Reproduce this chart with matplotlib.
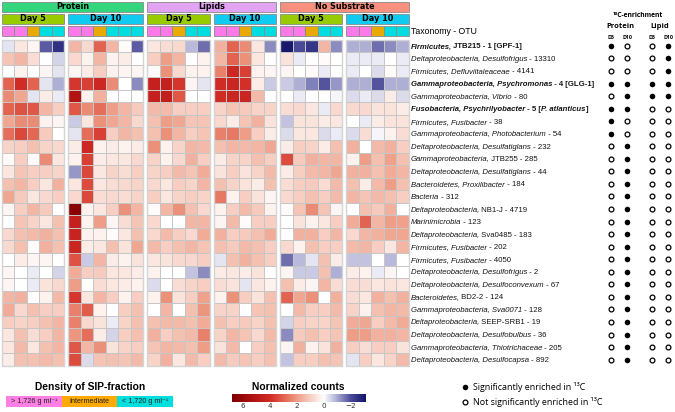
import numpy as np
import matplotlib
matplotlib.use("Agg")
import matplotlib.pyplot as plt
from matplotlib.colors import LinearSegmentedColormap, Normalize
from matplotlib.patches import Rectangle

# ---------------- data ----------------
treatments = ["Protein", "Lipids", "No Substrate"]
days = ["Day 5", "Day 10"]

# density of SIP fraction per column: h = heavy, m = intermediate, l = light
dens_p5 = ["h", "h", "m", "l", "l"]
dens_p10 = ["h", "h", "m", "l", "l", "l"]
dens_l5 = ["h", "h", "m", "l", "l"]
dens_l10 = ["h", "h", "m", "l", "l"]
dens_n5 = ["h", "h", "m", "l", "l"]
dens_n10 = ["h", "h", "m", "l", "l"]

protein_d5 = [
    [-0.3, 0.5, 0.2, -1.8, -2.5], [1.2, 1.5, 0.7, 0.0, -0.5], [0.0, 0.3, 0.0, 0.2, -0.3],
    [3.0, 4.0, 3.0, -0.3, -0.9], [2.3, 1.8, -0.3, 0.4, -0.2], [3.0, 3.3, 3.2, 1.5, 1.0],
    [1.8, 2.3, 2.3, 0.3, 0.2], [2.8, 3.5, 2.9, 1.1, 0.0], [0.9, 1.0, 1.3, 0.9, 0.8],
    [0.1, 1.0, 0.1, 2.3, 0.5], [0.5, 1.2, 1.0, 1.0, 0.9], [1.3, 1.5, 1.0, 0.5, 1.6],
    [1.8, 1.1, 0.5, 0.8, 1.0], [0.2, 1.0, 1.5, 1.1, 0.0], [0.0, 1.2, 0.9, 0.5, 1.3],
    [0.8, 1.3, 1.4, 1.6, 1.3], [0.8, 1.3, 0.1, 1.6, 1.3], [0.0, 0.4, 0.2, 0.2, 0.0],
    [0.2, 0.0, -0.2, 0.0, -0.5], [0.2, 0.0, -0.2, 0.6, 0.8], [1.5, 1.6, 0.0, 0.3, 1.4],
    [1.7, 0.8, 1.3, 1.0, 1.0], [1.0, 0.9, 1.0, 1.3, 1.5], [0.5, 1.3, 0.7, 1.0, 1.5],
    [0.5, 1.4, 0.5, 1.3, 1.5], [0.4, 1.3, 1.3, 1.4, 1.3],
]
protein_d10 = [
    [1.5, 0.8, 3.0, 1.5, 0.1, -1.8], [0.8, 0.3, 1.5, 0.3, 0.4, 0.0], [0.2, 0.4, 1.0, 0.3, 0.2, 0.2],
    [3.8, 3.6, 4.2, 2.3, 0.0, -1.3], [5.2, 0.3, 1.6, 0.0, 0.0, 0.0], [3.2, 2.3, 2.8, 2.0, 1.5, 1.1],
    [-0.6, 0.5, 2.2, 1.8, 1.5, 0.8], [-0.3, 2.8, 3.6, 1.0, 1.5, 1.3], [0.4, 4.2, 0.3, 0.4, 0.3, 0.4],
    [0.3, 3.6, 0.4, 0.5, 0.5, 0.8], [-1.2, 3.5, 0.5, 0.9, 0.7, 1.0], [0.5, 3.4, 0.5, 0.7, 0.8, 0.9],
    [0.8, 3.5, 0.7, 0.8, 0.7, 0.9], [6.5, 0.3, 0.5, 1.0, 2.2, 1.5], [4.5, 0.3, 2.0, 0.2, 0.7, 1.2],
    [4.4, 0.3, 0.3, 0.1, 0.5, 1.3], [4.3, 0.4, 0.5, 1.3, 0.6, 1.8], [3.3, -0.6, 1.5, 0.4, 0.3, 0.6],
    [1.7, 1.0, 1.1, 0.5, 0.5, 0.4], [2.0, 0.0, 0.7, 0.5, 0.4, 0.3], [3.8, 0.5, 1.5, 1.0, 0.3, 1.0],
    [2.5, 3.1, 0.3, 0.0, 1.0, 1.3], [2.5, 0.8, 0.6, -0.2, 0.9, 1.3], [2.1, 2.8, 0.4, -0.5, 1.0, 1.3],
    [3.2, 1.5, 2.2, 0.6, 0.9, 1.0], [3.4, -0.4, 1.2, 1.3, 1.2, 1.4],
]
lipids_d5 = [
    [0.5, 0.7, 0.8, -0.8, -1.6], [1.0, 2.0, 1.5, 0.0, 0.3], [0.1, 2.2, 0.8, 0.3, 0.3],
    [4.5, 4.5, 3.8, 0.2, -0.3], [4.5, 4.6, 3.2, 0.0, 0.0], [1.4, 1.4, 1.0, 1.0, 1.0],
    [1.3, 2.0, 1.8, 1.2, 1.2], [1.3, 2.2, 1.5, 1.0, 1.2], [2.2, 0.3, 0.9, 1.5, 1.4],
    [0.9, 0.3, 0.8, 1.6, 1.0], [0.9, 1.0, 1.4, 1.2, 1.7], [0.8, 0.5, 1.0, 0.9, 1.5],
    [1.0, 0.5, 0.9, 1.0, 0.9], [0.1, 1.5, 2.2, 1.3, 0.8], [0.8, 0.0, 0.0, 1.5, 1.5],
    [0.8, 1.4, 1.0, 0.8, 1.7], [1.4, 1.0, 1.3, 1.5, 1.2], [0.5, 0.6, 0.8, 0.8, 1.0],
    [0.3, 0.0, 0.0, -0.7, -1.3], [-0.4, 0.0, 0.7, 0.9, 1.0], [0.3, 2.2, 0.6, 1.0, 1.9],
    [0.0, 1.5, 0.0, 1.3, 2.1], [1.3, 1.4, 1.4, 1.3, 1.7], [1.6, 1.0, 1.3, 1.4, 2.5],
    [1.2, 1.5, 1.4, 1.3, 2.0], [0.9, 1.6, 0.5, 1.4, 1.0],
]
lipids_d10 = [
    [1.6, 3.0, 2.3, 0.5, -1.3], [1.5, 3.0, 2.2, 0.5, 0.0], [2.5, 4.2, 3.6, 0.3, 0.2],
    [4.0, 4.3, 3.9, 0.4, -0.6], [4.0, 4.3, 4.3, 1.4, 0.0], [0.9, 1.2, 1.1, 0.9, 0.9],
    [0.8, 0.4, 1.2, 1.6, 0.6], [2.5, 2.6, 2.0, 1.0, 0.4], [1.3, 1.5, 1.4, 1.5, 1.8],
    [0.4, 0.9, 0.9, 1.3, 1.0], [0.6, 1.0, 0.6, 0.9, 1.4], [1.3, 0.9, 0.6, 0.4, 1.3],
    [2.6, 0.3, 1.0, 0.6, 0.2], [0.3, 1.0, 1.4, 1.1, 0.3], [0.2, 1.4, 0.1, 1.0, 1.0],
    [1.6, 1.0, 1.1, 1.3, 1.7], [1.3, 1.1, 1.4, 1.3, 1.0], [-0.3, 1.3, 1.6, 1.3, 1.0],
    [0.4, 0.5, 0.4, 0.6, 0.0], [0.7, 0.6, -0.3, 0.5, 0.3], [0.3, 2.2, 1.0, 0.6, 1.3],
    [0.9, 0.9, 0.0, 1.2, 1.3], [1.3, 1.0, 1.1, 0.9, 1.3], [0.9, 1.5, 1.2, 0.8, 1.4],
    [0.6, 1.4, 0.0, 1.0, 1.3], [1.4, 1.1, 1.2, 1.0, 1.3],
]
nosub_d5 = [
    [-3.0, -2.0, -2.4, 1.5, -1.3], [0.6, -0.2, 0.0, 0.1, 0.0], [0.2, 0.0, 0.1, -0.2, 0.0],
    [-0.6, -0.9, -1.4, -1.9, -1.2], [0.0, -0.2, 0.0, 0.0, -0.1], [0.7, 0.8, 0.5, -0.2, 0.8],
    [-0.7, 0.6, 0.6, 0.4, 0.5], [-0.4, 0.5, 0.5, -0.4, -0.2], [0.4, 1.0, 0.9, 0.4, 1.3],
    [3.4, 1.1, 1.6, 1.5, 1.5], [0.4, 1.0, 1.4, 1.5, 1.8], [0.7, 1.0, 1.1, 0.7, 1.4],
    [0.8, 1.0, 1.3, 1.0, 1.4], [0.1, 1.2, 2.3, 1.2, 0.2], [0.0, 0.6, 0.3, 0.5, 1.0],
    [0.0, 1.6, 1.6, 1.0, 1.5], [0.8, 0.3, 1.3, 1.0, 1.0], [-1.6, -0.8, -0.3, 1.3, 0.4],
    [0.2, -0.6, -0.6, 1.3, -0.9], [1.3, 0.4, 0.2, 1.5, 0.7], [3.0, 1.8, 2.2, 0.0, 1.6],
    [0.0, 1.4, 1.0, 1.0, 1.4], [-0.5, 1.0, 0.9, 0.9, 1.2], [-1.3, 1.1, 1.3, 1.0, 1.2],
    [0.2, 1.6, 0.3, 0.6, 1.6], [-0.7, 1.0, 1.0, 1.3, 1.2],
]
nosub_d10 = [
    [-0.9, -0.9, -1.6, -1.3, -0.9], [-0.2, -0.2, -0.2, 0.0, -0.2], [-0.2, 0.0, -0.4, 0.1, -0.2],
    [-0.9, -0.9, -1.9, -0.9, -0.9], [-0.4, -0.2, -0.4, 0.4, -0.4], [0.8, 0.8, 0.6, 0.6, 0.4],
    [0.0, -0.2, 0.4, 0.6, 0.6], [-0.4, 0.7, -0.1, 0.3, 0.7], [1.6, 0.0, 1.4, 1.6, 1.0],
    [0.3, 2.0, 1.3, 1.9, 1.3], [1.6, 1.6, 1.3, 1.7, 1.5], [1.3, 0.4, 1.4, 2.0, 1.3],
    [1.5, 1.2, 1.4, 1.3, 1.0], [0.0, 1.3, 1.1, 1.6, 0.0], [1.7, 3.0, 1.5, 2.0, 1.9],
    [0.8, 1.5, 1.6, 1.8, 1.8], [1.4, 1.5, 1.0, 0.5, 1.5], [-0.7, -0.7, 0.0, -0.8, 0.0],
    [0.4, 0.3, -0.2, 0.2, 0.0], [0.7, 0.7, 0.5, 0.6, 0.5], [0.7, 0.5, 1.6, 1.3, 1.6],
    [0.9, 0.3, 1.3, 1.5, 1.4], [1.7, 1.8, 1.0, 1.4, 1.7], [2.0, 2.0, 1.6, 1.6, 1.5],
    [1.0, 0.7, 1.0, 1.0, 0.6], [-0.3, 1.0, 0.5, 0.9, 1.4],
]

# row labels: pieces of (text, italic?)
taxa = [
    [("Firmicutes,", 1), (" JTB215 - 1 [GPF-1]", 0)],
    [("Deltaproteobacteria, Desulfofrigus", 1), (" - 13310", 0)],
    [("Firmicutes, Defluviitaleaceae", 1), (" - 4141", 0)],
    [("Gammaproteobacteria, Psychromonas", 1), (" - 4 [GLG-1]", 0)],
    [("Gammaproteobacteria, Vibrio", 1), (" - 80", 0)],
    [("Fusobacteria, Psychrilyobacter", 1), (" - 5 [", 0), ("P. atlanticus", 1), ("]", 0)],
    [("Firmicutes, Fusibacter", 1), (" - 38", 0)],
    [("Gammaproteobacteria, Photobacterium", 1), (" - 54", 0)],
    [("Deltaproteobacteria, Desulfatiglans", 1), (" - 232", 0)],
    [("Gammaproteobacteria,", 1), (" JTB255 - 285", 0)],
    [("Deltaproteobacteria, Desulfatiglans", 1), (" - 44", 0)],
    [("Bacteroidetes, Proxilibacter", 1), (" - 184", 0)],
    [("Bacteria", 1), (" - 312", 0)],
    [("Deltaproteobacteria,", 1), (" NB1-J - 4719", 0)],
    [("Marinimicrobia", 1), (" - 123", 0)],
    [("Deltaproteobacteria,", 1), (" Sva0485 - 183", 0)],
    [("Firmicutes, Fusibacter", 1), (" - 202", 0)],
    [("Firmicutes, Fusibacter", 1), (" - 4050", 0)],
    [("Deltaproteobacteria, Desulfofrigus", 1), (" - 2", 0)],
    [("Deltaproteobacteria, Desulfoconvexum", 1), (" - 67", 0)],
    [("Bacteroidetes,", 1), (" BD2-2 - 124", 0)],
    [("Gammaproteobacteria, Sva0071", 1), (" - 128", 0)],
    [("Deltaproteobacteria,", 1), (" SEEP-SRB1 - 19", 0)],
    [("Deltaproteobacteria, Desulfobulbus", 1), (" - 36", 0)],
    [("Gammaproteobacteria, Thiotrichaceae", 1), (" - 205", 0)],
    [("Deltaproteobacteria, Desulfocapsa", 1), (" - 892", 0)],
]
bold_rows = [0, 3, 5]

# 13C enrichment (1 = significant)
enr_protein_d5 = [1, 0, 0, 1, 0, 1, 1, 1, 0, 0, 0, 0, 0, 0, 0, 0, 0, 0, 0, 0, 0, 0, 0, 0, 0, 0]
enr_protein_d10 = [0, 0, 0, 1, 1, 1, 0, 0, 1, 1, 1, 1, 1, 1, 1, 1, 1, 1, 1, 1, 1, 1, 1, 1, 1, 1]
enr_lipid_d5 = [0, 0, 0, 1, 1, 0, 0, 0, 0, 0, 0, 0, 0, 0, 0, 0, 0, 0, 0, 0, 0, 0, 0, 0, 0, 0]
enr_lipid_d10 = [1, 1, 1, 1, 1, 0, 0, 0, 0, 0, 0, 0, 0, 0, 0, 0, 0, 0, 0, 0, 0, 0, 0, 0, 0, 0]
enr_cols = ["D5", "D10", "D5", "D10"]

cbar_ticks = [6, 4, 2, 0, -2]

# ---------------- styles ----------------
treat_col = {"Protein": "#33d67c", "Lipids": "#e3a3f3", "No Substrate": "#f8907f"}
day_col = {"Day 5": "#99cc00", "Day 10": "#0fcbf2"}
dens_col = {"h": "#ff7ae8", "m": "#e9aa00", "l": "#00dde0"}

vmin, vmax = -3.1, 6.8
nodes = [(-3.1, "#14146b"), (-2.0, "#4a4a98"), (-1.0, "#a9a9d3"), (0.0, "#ffffff"),
         (1.0, "#f7cfc2"), (2.0, "#ee9c85"), (3.0, "#e2634f"), (4.0, "#d12b26"),
         (5.5, "#aa0f0f"), (6.8, "#7f0000")]
cmap = LinearSegmentedColormap.from_list(
    "nc", [((v - vmin) / (vmax - vmin), c) for v, c in nodes])
norm = Normalize(vmin, vmax)

LAB = ["Liberation Sans", "DejaVu Sans"]
HEAD = "DejaVu Sans"

fig = plt.figure(figsize=(6.75, 4.12), dpi=100)
ax = fig.add_axes([0, 0, 1, 1])
ax.set_xlim(0, 675)
ax.set_ylim(412, 0)
ax.axis("off")

X0, CW, GAP = 2.0, 12.48, 4.0
Y0, CH = 39.6, 12.55
nrow = len(taxa)

groups = [
    ("Protein", "Day 5", protein_d5, dens_p5),
    ("Protein", "Day 10", protein_d10, dens_p10),
    ("Lipids", "Day 5", lipids_d5, dens_l5),
    ("Lipids", "Day 10", lipids_d10, dens_l10),
    ("No Substrate", "Day 5", nosub_d5, dens_n5),
    ("No Substrate", "Day 10", nosub_d10, dens_n10),
]

ye = Y0 + np.arange(nrow + 1) * CH
x = X0
spans = {}
for treat, day, vals, dens in groups:
    vals = np.array(vals)
    nc = vals.shape[1]
    xe = x + np.arange(nc + 1) * CW
    ax.pcolormesh(xe, ye, vals, cmap=cmap, norm=norm,
                  edgecolors="#c6c6c6", linewidth=0.5)
    ax.add_patch(Rectangle((xe[0], ye[0]), xe[-1] - xe[0], ye[-1] - ye[0],
                           fill=False, ec="#d4d4d4", lw=1.0))
    # day bar
    ax.add_patch(Rectangle((xe[0], 13.5), xe[-1] - xe[0], 10, fc=day_col[day],
                           ec="#8a8a8a", lw=0.6))
    ax.text((xe[0] + xe[-1]) / 2, 18.6, day, ha="center", va="center",
            fontsize=5.9, fontweight="bold", family=HEAD)
    # density cells
    for j, d in enumerate(dens):
        ax.add_patch(Rectangle((xe[j], 26.2), CW, 9.8, fc=dens_col[d],
                               ec="#8a8a8a", lw=0.6))
    lo, hi = spans.get(treat, (xe[0], xe[-1]))
    spans[treat] = (min(lo, xe[0]), max(hi, xe[-1]))
    x = xe[-1] + GAP

for treat in treatments:
    lo, hi = spans[treat]
    ax.add_patch(Rectangle((lo, 1.5), hi - lo, 10, fc=treat_col[treat],
                           ec="#8a8a8a", lw=0.6))
    ax.text((lo + hi) / 2, 6.6, treat, ha="center", va="center",
            fontsize=5.8, fontweight="bold", family=HEAD)

ax.text(411, 31, "Taxonomy - OTU", ha="left", va="center", fontsize=6.3,
        family=LAB)

# row labels, piece by piece (advance width measured between two "|"s)
fig.canvas.draw()
rend = fig.canvas.get_renderer()


def advance(txt, **kw):
    t1 = ax.text(0, 0, "|" + txt + "|", **kw)
    t2 = ax.text(0, 0, "||", **kw)
    w = t1.get_window_extent(rend).width - t2.get_window_extent(rend).width
    t1.remove()
    t2.remove()
    return w


for i, parts in enumerate(taxa):
    yb = Y0 + (i + 0.5) * CH + 2.5
    xp = 411.0
    for txt, it in parts:
        kw = dict(fontsize=5.6, family=LAB,
                  style="italic" if it else "normal",
                  fontweight="bold" if i in bold_rows else "normal")
        ax.text(xp, yb, txt, ha="left", va="baseline", color="#151515", **kw)
        xp += advance(txt, **kw)
        if it and txt.endswith(","):
            xp -= 1.0   # italic comma leans back under the slant

# enrichment dots
ex = [611, 627, 652, 668]
yc = Y0 + (np.arange(nrow) + 0.5) * CH
for k, arr in enumerate([enr_protein_d5, enr_protein_d10, enr_lipid_d5, enr_lipid_d10]):
    arr = np.array(arr)
    xs = np.full(nrow, ex[k])
    ax.scatter(xs[arr == 1], yc[arr == 1], s=16, c="black", lw=0)
    ax.scatter(xs[arr == 0], yc[arr == 0], s=12, facecolors="white",
               edgecolors="black", linewidths=0.9)
    ax.text(ex[k], 37, enr_cols[k], ha="center", va="center", fontsize=3.8,
            family="Open Sans", fontweight="bold")
ax.text(638, 15, "¹³C-enrichment", ha="center", va="center", fontsize=4.9,
        family="Open Sans", fontweight="bold")
ax.text(620, 26.5, "Protein", ha="center", va="center", fontsize=5.4,
        family="Open Sans", fontweight="bold")
ax.text(660, 26.5, "Lipid", ha="center", va="center", fontsize=5.4,
        family="Open Sans", fontweight="bold")

# density legend
ax.text(90, 386.5, "Density of SIP-fraction", ha="center", va="center",
        fontsize=7.4, fontweight="bold", family=LAB)
leg_labels = ["> 1,726 g ml⁻¹", "Intermediate", "< 1,720 g ml⁻¹"]
leg_cols = ["#ff80e4", "#ffaa00", "#00dede"]
bw = 55.7
for k in range(3):
    ax.add_patch(Rectangle((6 + k * bw, 396), bw, 10.5, fc=leg_cols[k], lw=0))
    ax.text(6 + (k + 0.5) * bw, 401.3, leg_labels[k], ha="center", va="center",
            fontsize=5.2, family=LAB, color="#222222")

# colour bar
ax.text(298, 387, "Normalized counts", ha="center", va="center",
        fontsize=7.4, fontweight="bold", family=LAB)
cax = fig.add_axes([232 / 675, (412 - 402.5) / 412, 133 / 675, 8.5 / 412])
grad = np.linspace(vmin, vmax, 400)[None, :]
cax.imshow(grad, cmap=cmap, norm=norm, aspect="auto",
           extent=(vmin, vmax, 0, 1))
cax.set_xlim(vmax, vmin)
cax.set_yticks([])
cax.set_xticks(cbar_ticks)
cax.tick_params(axis="x", length=0, pad=0.6, labelsize=5.2, colors="#333333")
for s in cax.spines.values():
    s.set_visible(False)

# dot legend
ax.scatter([465], [387.3], s=16, c="black", lw=0)
ax.scatter([465], [401.7], s=12, facecolors="white", edgecolors="black",
           linewidths=0.9)
ax.text(473, 387.3, "Significantly enriched in ¹³C", ha="left", va="center",
        fontsize=6.4, family="Open Sans")
ax.text(473, 401.7, "Not significantly enriched in ¹³C", ha="left", va="center",
        fontsize=6.4, family="Open Sans")

fig.savefig("out.png", dpi=100)
